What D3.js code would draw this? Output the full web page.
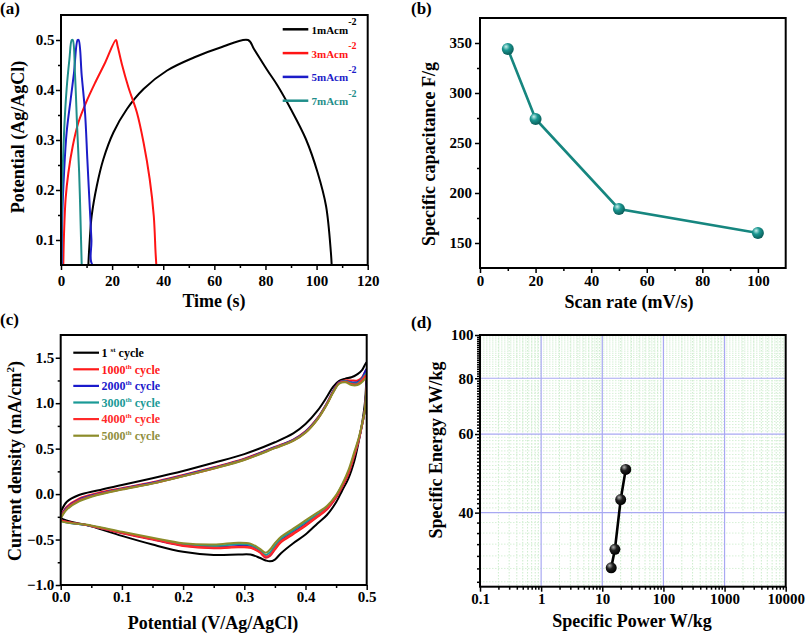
<!DOCTYPE html>
<html><head><meta charset="utf-8">
<script src="https://cdn.jsdelivr.net/npm/d3@7"></script>
<style>body{margin:0;background:#fff}</style>
</head><body><svg id="c" width="806" height="635"></svg>
<script>
// ---------- Panel (a) data: galvanostatic charge/discharge ----------
const gcdLabels = ["1mAcm", "3mAcm", "5mAcm", "7mAcm"];
const gcdColors = ["#000000", "#ff1414", "#1c1cc8", "#1f8e8a"];
const gcd1T = [10.7, 11.1, 12.0, 14.0, 16.6, 20.5, 25.8, 32.3, 41.5, 52.0, 62.4, 73.2, 75.5, 80.8, 84.7, 89.9, 95.8, 100.4, 103.7, 105.6, 105.9];
const gcd1V = [0.05, 0.088, 0.148, 0.208, 0.262, 0.315, 0.362, 0.402, 0.439, 0.465, 0.485, 0.5, 0.482, 0.439, 0.409, 0.362, 0.302, 0.235, 0.168, 0.075, 0.05];
const gcd3T = [0.9, 1.2, 1.8, 2.9, 4.6, 6.8, 9.8, 13.4, 17.3, 21.5, 22.1, 23.8, 26.4, 29.7, 32.3, 34.7, 36.3, 37.0, 37.3];
const gcd3V = [0.05, 0.115, 0.182, 0.235, 0.288, 0.335, 0.375, 0.415, 0.455, 0.5, 0.489, 0.452, 0.405, 0.355, 0.295, 0.222, 0.148, 0.075, 0.05];
const gcd5T = [0.3, 0.5, 1.2, 2.2, 3.8, 5.1, 6.5, 6.9, 8.1, 9.4, 10.3, 11.1, 11.9, 12.4, 21.2];
const gcd5V = [0.05, 0.148, 0.235, 0.315, 0.382, 0.435, 0.5, 0.5, 0.429, 0.355, 0.262, 0.181, 0.101, 0.05, 0.05];
const gcd7T = [0.13, 0.4, 1.2, 2.2, 3.3, 4.2, 4.6, 5.5, 6.3, 7.1, 7.7, 8.1];
const gcd7V = [0.05, 0.18, 0.315, 0.402, 0.462, 0.5, 0.5, 0.429, 0.328, 0.235, 0.128, 0.05];
const aXTicks = [0, 20, 40, 60, 80, 100, 120], aXMinor = [10, 30, 50, 70, 90, 110];
const aYTicks = [0.1, 0.2, 0.3, 0.4, 0.5], aYMinor = [0.15, 0.25, 0.35, 0.45];

// ---------- Panel (b) data ----------
const scanRate = [10, 20, 50, 100];
const capacitance = [344, 274, 184, 160];
const bXTicks = [0, 20, 40, 60, 80, 100], bXMinor = [10, 30, 50, 70, 90];
const bYTicks = [150, 200, 250, 300, 350], bYMinor = [175, 225, 275, 325];

// ---------- Panel (c) data: CV cycles ----------
const cvLabels = ["1", "1000", "2000", "3000", "4000", "5000"];
const cvSup = ["st", "th", "th", "th", "th", "th"];
const cvColors = ["#000000", "#ff1a1a", "#1a1acc", "#1a9a96", "#ff2a2a", "#8c8c2a"];
const cvTextColors = ["#000000", "#ff1a1a", "#1a1acc", "#1a9a96", "#ff2a2a", "#8f8f3e"];
const fwdV = [0, 0.01, 0.03, 0.06, 0.1, 0.15, 0.2, 0.25, 0.3, 0.35, 0.38, 0.4, 0.42, 0.435, 0.445, 0.455, 0.465, 0.475, 0.485, 0.492, 0.5];
const revV = [0.5, 0.499, 0.497, 0.493, 0.487, 0.48, 0.47, 0.46, 0.45, 0.435, 0.42, 0.4, 0.38, 0.36, 0.35, 0.342, 0.335, 0.325, 0.31, 0.29, 0.25, 0.2, 0.15, 0.1, 0.05, 0];
const cyc1Fwd = [-0.2, -0.085, -0.01, 0.04, 0.1, 0.175, 0.255, 0.345, 0.44, 0.57, 0.667, 0.77, 0.92, 1.07, 1.18, 1.245, 1.27, 1.285, 1.32, 1.36, 1.45];
const cyc1Rev = [1.45, 1.2, 1.0, 0.8, 0.58, 0.37, 0.17, 0.04, -0.09, -0.23, -0.32, -0.445, -0.54, -0.65, -0.72, -0.74, -0.73, -0.7, -0.665, -0.665, -0.67, -0.635, -0.555, -0.46, -0.355, -0.26];
const cyc1000Fwd = [-0.24, -0.14, -0.05, 0.01, 0.065, 0.13, 0.21, 0.295, 0.39, 0.52, 0.6, 0.69, 0.84, 1.0, 1.13, 1.23, 1.25, 1.25, 1.25, 1.28, 1.37];
const cyc1000Rev = [1.37, 1.12, 0.93, 0.78, 0.59, 0.43, 0.22, 0.08, -0.04, -0.17, -0.25, -0.35, -0.44, -0.53, -0.61, -0.68, -0.7, -0.64, -0.59, -0.585, -0.595, -0.57, -0.5, -0.43, -0.35, -0.28];
const cyc2000Fwd = [-0.25, -0.15, -0.06, 0.0, 0.058, 0.125, 0.205, 0.29, 0.385, 0.515, 0.595, 0.685, 0.835, 1.0, 1.13, 1.23, 1.245, 1.23, 1.23, 1.27, 1.38];
const cyc2000Rev = [1.38, 1.12, 0.93, 0.78, 0.6, 0.44, 0.23, 0.09, -0.03, -0.16, -0.23, -0.33, -0.42, -0.51, -0.59, -0.67, -0.69, -0.63, -0.575, -0.57, -0.585, -0.56, -0.495, -0.425, -0.35, -0.285];
const cyc3000Fwd = [-0.26, -0.16, -0.07, -0.005, 0.055, 0.12, 0.2, 0.285, 0.38, 0.51, 0.59, 0.68, 0.83, 0.99, 1.12, 1.22, 1.24, 1.22, 1.22, 1.26, 1.33];
const cyc3000Rev = [1.33, 1.1, 0.92, 0.78, 0.6, 0.45, 0.24, 0.1, -0.02, -0.15, -0.22, -0.31, -0.4, -0.49, -0.57, -0.64, -0.67, -0.61, -0.56, -0.55, -0.57, -0.55, -0.49, -0.42, -0.35, -0.29];
const cyc4000Fwd = [-0.26, -0.16, -0.07, -0.005, 0.053, 0.118, 0.198, 0.282, 0.378, 0.508, 0.588, 0.678, 0.828, 0.99, 1.12, 1.22, 1.235, 1.21, 1.21, 1.25, 1.31];
const cyc4000Rev = [1.31, 1.1, 0.92, 0.78, 0.6, 0.44, 0.23, 0.09, -0.03, -0.16, -0.24, -0.34, -0.43, -0.52, -0.6, -0.67, -0.69, -0.635, -0.585, -0.58, -0.59, -0.565, -0.495, -0.425, -0.35, -0.285];
const cyc5000Fwd = [-0.27, -0.17, -0.08, -0.01, 0.05, 0.115, 0.195, 0.28, 0.375, 0.505, 0.585, 0.675, 0.825, 0.985, 1.115, 1.215, 1.23, 1.2, 1.2, 1.23, 1.28];
const cyc5000Rev = [1.28, 1.08, 0.92, 0.79, 0.62, 0.47, 0.26, 0.11, -0.01, -0.13, -0.2, -0.29, -0.38, -0.47, -0.54, -0.61, -0.645, -0.6, -0.545, -0.535, -0.555, -0.54, -0.48, -0.415, -0.345, -0.295];
const cXTicks = [0, 0.1, 0.2, 0.3, 0.4, 0.5], cXMinor = [0.05, 0.15, 0.25, 0.35, 0.45];
const cYTicks = [-1.0, -0.5, 0.0, 0.5, 1.0, 1.5], cYMinor = [-0.75, -0.25, 0.25, 0.75, 1.25];

// ---------- Panel (d) data: Ragone ----------
const power = [24.2, 20.0, 16.1, 14.0];
const energy = [50.0, 42.8, 33.1, 30.1];
const dXTicks = [0.1, 1, 10, 100, 1000, 10000];
const dXLabels = ["0.1", "1", "10", "100", "1000", "10000"];
const dYTicks = [40, 60, 80, 100];
const dYMinor = [28, 30, 32, 34, 36, 38, 41, 42, 43, 44, 45, 46, 47, 48, 49, 50, 51, 52, 53, 54, 55, 56, 57, 58, 59, 61, 62, 63, 64, 65, 66, 67, 68, 69, 70, 71, 72, 73, 74, 75, 76, 77, 78, 79, 81, 82, 83, 84, 85, 86, 87, 88, 89, 90, 91, 92, 93, 94, 95, 96, 97, 98, 99];
const dXMinorMult = [2, 3, 4, 5, 6, 7, 8, 9];

// ---------- drawing ----------
const SERIF = "'Liberation Serif','Times New Roman',serif";
const svg = d3.select("#c");
const defs = svg.append("defs");
function clip(id, b) {
  defs.append("clipPath").attr("id", id).append("rect")
    .attr("x", b.L).attr("y", b.T).attr("width", b.R - b.L).attr("height", b.B - b.T);
}
function styleAxis(sel) {
  sel.select(".domain").remove();
  sel.selectAll(".tick line").attr("stroke", "#000").attr("stroke-width", 1.5);
  sel.selectAll("text").attr("font-family", SERIF).attr("font-size", 15)
    .attr("font-weight", "bold").attr("fill", "#000");
}
function axes(b, x, y, o) {
  const g = svg.append("g");
  g.append("g").attr("transform", `translate(0,${b.B})`)
    .call(d3.axisBottom(x).tickValues(o.xt).tickFormat(o.xf).tickSize(5).tickSizeOuter(0).tickPadding(o.xpad))
    .call(styleAxis);
  g.append("g").attr("transform", `translate(0,${b.B})`)
    .call(d3.axisBottom(x).tickValues(o.xm).tickFormat("").tickSize(3).tickSizeOuter(0)).call(styleAxis);
  g.append("g").attr("transform", `translate(${b.L},0)`)
    .call(d3.axisLeft(y).tickValues(o.yt).tickFormat(o.yf).tickSize(5).tickSizeOuter(0).tickPadding(o.ypad))
    .call(styleAxis);
  g.append("g").attr("transform", `translate(${b.L},0)`)
    .call(d3.axisLeft(y).tickValues(o.ym).tickFormat("").tickSize(3).tickSizeOuter(0)).call(styleAxis);
  g.append("rect").attr("x", b.L).attr("y", b.T).attr("width", b.R - b.L).attr("height", b.B - b.T)
    .attr("fill", "none").attr("stroke", "#000").attr("stroke-width", 2);
}
function text(x, y, s, size, opts = {}) {
  const t = svg.append("text").attr("x", x).attr("y", y).attr("font-family", SERIF)
    .attr("font-weight", "bold").attr("font-size", size).attr("fill", opts.fill || "#000")
    .attr("text-anchor", opts.anchor || "start");
  if (opts.rot) t.attr("transform", `rotate(-90,${x},${y})`);
  t.text(s);
  return t;
}
function sphereGrad(id, light, mid, dark) {
  const g = defs.append("radialGradient").attr("id", id).attr("cx", "40%").attr("cy", "35%").attr("r", "65%")
    .attr("fx", "35%").attr("fy", "30%");
  g.append("stop").attr("offset", "0%").attr("stop-color", light);
  g.append("stop").attr("offset", "45%").attr("stop-color", mid);
  g.append("stop").attr("offset", "100%").attr("stop-color", dark);
}
sphereGrad("tealSphere", "#c8f0ec", "#1a9690", "#0a5c58");
sphereGrad("blackSphere", "#b0b0b0", "#202020", "#000000");
const smooth = d3.curveCatmullRom.alpha(0.5);

// ===== Panel (a) =====
{
  const b = {L: 61, R: 367.7, T: 15, B: 265};
  const x = d3.scaleLinear().domain([0, 120]).range([b.L, b.R]);
  const y = d3.scaleLinear().domain([0.05, 0.55]).range([b.B, b.T]);
  clip("clipA", b);
  const series = [[gcd1T, gcd1V], [gcd3T, gcd3V], [gcd5T, gcd5V], [gcd7T, gcd7V]];
  const line = d3.line().x(d => x(d[0])).y(d => y(d[1])).curve(smooth);
  const gp = svg.append("g").attr("clip-path", "url(#clipA)");
  series.forEach((s, i) => {
    const pts = s[0].map((t, k) => [t, s[1][k]]);
    gp.append("path").attr("d", line(pts)).attr("fill", "none").attr("stroke", gcdColors[i])
      .attr("stroke-width", 2).attr("stroke-linejoin", "round");
  });
  axes(b, x, y, {xt: aXTicks, xm: aXMinor, xf: d3.format("d"), xpad: 5,
                 yt: aYTicks, ym: aYMinor, yf: d3.format(".1f"), ypad: 1.5});
  // legend
  gcdLabels.forEach((lab, i) => {
    const yy = 29.3 + i * 23.8;
    svg.append("line").attr("x1", 282.7).attr("x2", 308.3).attr("y1", yy).attr("y2", yy)
      .attr("stroke", gcdColors[i]).attr("stroke-width", 2.5);
    const t = text(311.5, yy + 4.5, lab, 11, {fill: gcdColors[i]});
    t.append("tspan").attr("dy", -8.5).attr("font-size", 10).text("-2");
  });
  text(214, 307, "Time (s)", 18, {anchor: "middle"});
  text(24, 137, "Potential (Ag/AgCl)", 18, {anchor: "middle", rot: true});
  text(0, 14, "(a)", 17);
}

// ===== Panel (b) =====
{
  const b = {L: 480, R: 785.7, T: 18, B: 268};
  const x = d3.scaleLinear().domain([0, 110]).range([b.L, b.R]);
  const y = d3.scaleLinear().domain([125, 375]).range([b.B, b.T]);
  const pts = scanRate.map((r, i) => [r, capacitance[i]]);
  svg.append("path").attr("d", d3.line().x(d => x(d[0])).y(d => y(d[1]))(pts))
    .attr("fill", "none").attr("stroke", "#16867f").attr("stroke-width", 2.6);
  svg.selectAll(".bdot").data(pts).join("circle").attr("cx", d => x(d[0])).attr("cy", d => y(d[1]))
    .attr("r", 6).attr("fill", "url(#tealSphere)");
  axes(b, x, y, {xt: bXTicks, xm: bXMinor, xf: d3.format("d"), xpad: 2,
                 yt: bYTicks, ym: bYMinor, yf: d3.format("d"), ypad: 3});
  text(629, 308, "Scan rate (mV/s)", 18, {anchor: "middle"});
  text(435, 154, "Specific capacitance F/g", 18, {anchor: "middle", rot: true});
  text(411, 14, "(b)", 17);
}

// ===== Panel (c) =====
{
  const b = {L: 60.7, R: 366.7, T: 335, B: 585};
  const x = d3.scaleLinear().domain([0, 0.5]).range([b.L, b.R]);
  const y = d3.scaleLinear().domain([-1.0, 1.75]).range([b.B, b.T]);
  clip("clipC", b);
  const cycles = [[cyc1Fwd, cyc1Rev], [cyc1000Fwd, cyc1000Rev], [cyc2000Fwd, cyc2000Rev],
                  [cyc3000Fwd, cyc3000Rev], [cyc4000Fwd, cyc4000Rev], [cyc5000Fwd, cyc5000Rev]];
  const line = d3.line().x(d => x(d[0])).y(d => y(d[1])).curve(smooth);
  const gp = svg.append("g").attr("clip-path", "url(#clipC)");
  cycles.forEach((c, i) => {
    const pts = fwdV.map((v, k) => [v, c[0][k]])
      .concat(revV.slice(1).map((v, k) => [v, c[1][k + 1]]))
      .concat([[fwdV[0], c[0][0]]]);
    gp.append("path").attr("d", line(pts)).attr("fill", "none").attr("stroke", cvColors[i])
      .attr("stroke-width", 2).attr("stroke-linejoin", "round");
  });
  axes(b, x, y, {xt: cXTicks, xm: cXMinor, xf: d3.format(".1f"), xpad: 1.5,
                 yt: cYTicks, ym: cYMinor, yf: d3.format(".1f"), ypad: 1.5});
  cvLabels.forEach((lab, i) => {
    const yy = 352.7 + i * 16.6;
    svg.append("line").attr("x1", 73.3).attr("x2", 99).attr("y1", yy).attr("y2", yy)
      .attr("stroke", cvColors[i]).attr("stroke-width", 2.2);
    const t = text(101.5, yy + 4.2, lab + (i === 0 ? " " : ""), 12, {fill: cvTextColors[i]});
    t.append("tspan").attr("dy", -5).attr("font-size", 7).text(cvSup[i]);
    t.append("tspan").attr("dy", 5).text(" cycle");
  });
  text(213, 629, "Potential (V/Ag/AgCl)", 18, {anchor: "middle"});
  const yt = text(21, 461, "Current density (mA/cm", 18, {anchor: "middle", rot: true});
  yt.append("tspan").attr("dy", -7).attr("font-size", 11).text("2");
  yt.append("tspan").attr("dy", 7).text(")");
  text(0, 325, "(c)", 17);
}

// ===== Panel (d) =====
{
  const b = {L: 480, R: 785.7, T: 335, B: 586.7};
  const x = d3.scaleLog().domain([0.1, 10000]).range([b.L, b.R]);
  const y = d3.scaleLog().domain([27.3, 100]).range([b.B, b.T]);
  const grid = svg.append("g");
  const xMinor = [];
  dXTicks.slice(0, -1).forEach(d => dXMinorMult.forEach(m => xMinor.push(d * m)));
  grid.selectAll(".gxm").data(xMinor).join("line").attr("x1", d => x(d)).attr("x2", d => x(d))
    .attr("y1", b.T).attr("y2", b.B).attr("stroke", "#cdeccd").attr("stroke-width", 1).attr("stroke-dasharray", "1.5,1.5");
  grid.selectAll(".gym").data(dYMinor).join("line").attr("y1", d => y(d)).attr("y2", d => y(d))
    .attr("x1", b.L).attr("x2", b.R).attr("stroke", "#d6f0d6").attr("stroke-width", 1).attr("stroke-dasharray", "1.5,1.5");
  grid.selectAll(".gx").data(dXTicks.slice(1, -1)).join("line").attr("x1", d => x(d)).attr("x2", d => x(d))
    .attr("y1", b.T).attr("y2", b.B).attr("stroke", "#a8a8f2").attr("stroke-width", 1.2);
  grid.selectAll(".gy").data(dYTicks.slice(0, -1)).join("line").attr("y1", d => y(d)).attr("y2", d => y(d))
    .attr("x1", b.L).attr("x2", b.R).attr("stroke", "#a8a8f2").attr("stroke-width", 1.2);
  const pts = power.map((p, i) => [p, energy[i]]);
  svg.append("path").attr("d", d3.line().x(d => x(d[0])).y(d => y(d[1]))(pts))
    .attr("fill", "none").attr("stroke", "#000").attr("stroke-width", 2.6);
  svg.selectAll(".ddot").data(pts).join("circle").attr("cx", d => x(d[0])).attr("cy", d => y(d[1]))
    .attr("r", 5.5).attr("fill", "url(#blackSphere)");
  axes(b, x, y, {xt: dXTicks, xm: xMinor, xf: (d, i) => dXLabels[i], xpad: 1.5,
                 yt: dYTicks, ym: dYMinor, yf: d3.format("d"), ypad: 1.5});
  text(632, 627, "Specific Power W/kg", 18, {anchor: "middle"});
  text(442, 450, "Specific Energy kW/kg", 18, {anchor: "middle", rot: true});
  text(411, 328, "(d)", 17);
}
</script></body></html>
